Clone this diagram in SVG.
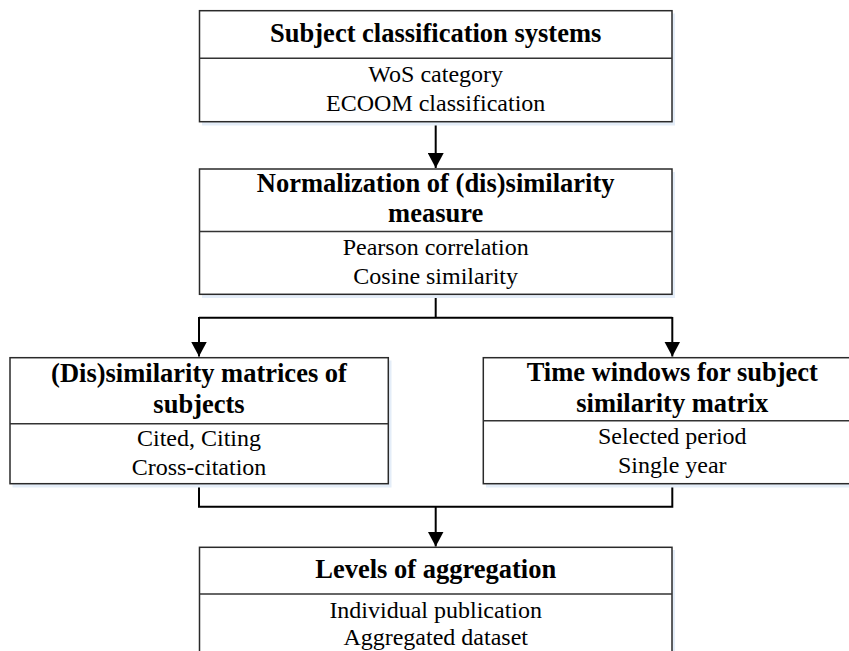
<svg xmlns="http://www.w3.org/2000/svg" width="849" height="651" viewBox="0 0 849 651">
<style>
.shadow{fill:#e4edf8;}
.box{fill:#ffffff;stroke:#2a2a2a;stroke-width:1.5;}
.div{stroke:#333333;stroke-width:1.5;}
.t{font-family:"Liberation Serif","Times New Roman",serif;font-size:26.5px;font-weight:bold;fill:#000;text-anchor:middle;}
.s{font-family:"Liberation Serif","Times New Roman",serif;font-size:24px;fill:#000;text-anchor:middle;}
.c{fill:none;stroke:#000;stroke-width:2;}
</style>
<defs>
<marker id="ah" markerWidth="8" markerHeight="8" refX="7.5" refY="4" orient="auto" markerUnits="strokeWidth">
<path d="M0,0 L7.5,4 L0,8 Z" fill="#000"/>
</marker>
</defs>
<rect width="849" height="651" fill="#ffffff"/>
<g id="connectors">
<line class="c" x1="435.7" y1="122" x2="435.7" y2="168" marker-end="url(#ah)"/>
<line class="c" x1="435.7" y1="294.5" x2="435.7" y2="317.7"/>
<polyline class="c" points="199,317.7 672.3,317.7"/>
<line class="c" x1="199" y1="317" x2="199" y2="356.5" marker-end="url(#ah)"/>
<line class="c" x1="672.3" y1="317" x2="672.3" y2="356.5" marker-end="url(#ah)"/>
<polyline class="c" points="199,484 199,506.7 672.3,506.7 672.3,484"/>
<line class="c" x1="435.7" y1="506.7" x2="435.7" y2="546.5" marker-end="url(#ah)"/>
</g>
<g id="node-subject-classification">
<rect class="shadow" x="202" y="13.5" width="473" height="112"/>
<rect class="box" x="199.5" y="10.7" width="472.5" height="111"/>
<line class="div" x1="199.5" y1="58.3" x2="672" y2="58.3"/>
<text class="t" x="435.7" y="41.7">Subject classification systems</text>
<text class="s" x="435.7" y="81.7">WoS category</text>
<text class="s" x="435.7" y="111">ECOOM classification</text>
</g>
<g id="node-normalization">
<rect class="shadow" x="202" y="172" width="473" height="126"/>
<rect class="box" x="199.5" y="169" width="472.5" height="125.3"/>
<line class="div" x1="199.5" y1="231.5" x2="672" y2="231.5"/>
<text class="t" x="435.7" y="191.7">Normalization of (dis)similarity</text>
<text class="t" x="435.7" y="221.7">measure</text>
<text class="s" x="435.7" y="255">Pearson correlation</text>
<text class="s" x="435.7" y="284.3">Cosine similarity</text>
</g>
<g id="node-dissimilarity-matrices">
<rect class="shadow" x="12.5" y="360.5" width="379" height="127"/>
<rect class="box" x="10" y="357.7" width="378.3" height="126"/>
<line class="div" x1="10" y1="423.8" x2="388.3" y2="423.8"/>
<text class="t" x="199" y="381.7">(Dis)similarity matrices of</text>
<text class="t" x="199" y="413.3">subjects</text>
<text class="s" x="199" y="446">Cited, Citing</text>
<text class="s" x="199" y="475">Cross-citation</text>
</g>
<g id="node-time-windows">
<rect class="shadow" x="486" y="360.5" width="379" height="127"/>
<rect class="box" x="483.3" y="357.7" width="378" height="126"/>
<line class="div" x1="483.3" y1="420.7" x2="861.3" y2="420.7"/>
<text class="t" x="672.3" y="380.7">Time windows for subject</text>
<text class="t" x="672.3" y="411.7">similarity matrix</text>
<text class="s" x="672.3" y="444.3">Selected period</text>
<text class="s" x="672.3" y="473.3">Single year</text>
</g>
<g id="node-levels-aggregation">
<rect class="shadow" x="202" y="550" width="473" height="120"/>
<rect class="box" x="199.5" y="547.3" width="472.5" height="120"/>
<line class="div" x1="199.5" y1="594" x2="672" y2="594"/>
<text class="t" x="435.7" y="578.3">Levels of aggregation</text>
<text class="s" x="435.7" y="618.3">Individual publication</text>
<text class="s" x="435.7" y="645">Aggregated dataset</text>
</g>
</svg>
